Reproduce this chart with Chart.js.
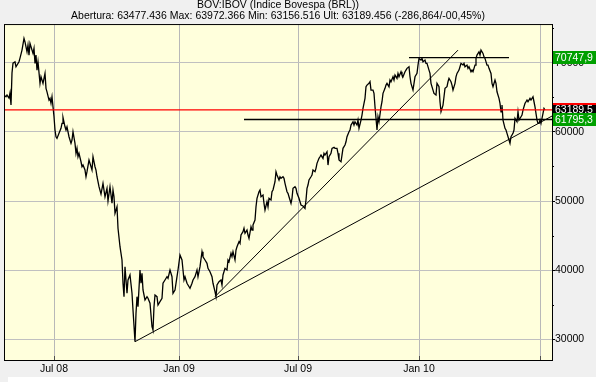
<!DOCTYPE html>
<html><head><meta charset="utf-8">
<script src="https://cdn.jsdelivr.net/npm/chart.js@4"></script>
<style>html,body{margin:0;padding:0;background:#f0f0f0;}canvas{display:block;}</style>
</head><body>
<canvas id="c" width="596" height="382"></canvas>
<script>
const titleText = 'BOV:IBOV (Indice Bovespa (BRL))';
const subtitleText = 'Abertura: 63477.436 Max: 63972.366 Min: 63156.516 Ult: 63189.456 (-286,864/-00,45%)';

// trading-day index (chart x) and closing values
const dayIndex = [4,6,7,9,10,11,12,13,15,16,19,20,22,24,25,27,28,29,30,31,33,34,35,36,37,38,40,41,43,45,46,47,49,50,51,52,53,54,55,56,57,59,61,62,63,65,66,67,69,71,72,73,75,76,77,78,79,81,82,83,85,86,87,89,90,92,93,95,96,97,99,101,103,105,107,108,110,112,113,114,115,117,118,120,122,123,124,125,127,128,130,132,133,135,136,137,138,140,141,142,143,145,147,148,150,152,153,154,155,157,158,160,162,163,165,167,168,170,172,173,175,177,178,180,182,183,184,185,187,188,190,192,193,195,197,198,200,202,203,205,207,208,210,212,213,215,216,217,219,221,222,223,225,227,228,229,231,232,233,235,236,237,239,240,241,243,244,245,247,248,249,251,252,253,255,256,257,259,260,261,263,264,265,267,268,269,271,272,273,275,276,277,279,280,281,283,284,285,287,288,289,291,292,293,295,296,297,299,300,301,303,305,306,307,308,309,311,312,313,315,316,317,319,320,321,323,324,325,327,328,329,331,332,334,335,337,338,339,341,342,343,345,346,347,349,350,351,353,354,355,357,358,359,361,362,363,365,366,367,369,370,371,373,374,375,377,378,379,381,382,383,385,386,387,389,390,391,393,394,395,397,398,399,401,402,403,405,406,407,409,410,411,413,414,415,417,418,419,421,422,423,425,426,427,429,430,431,433,434,436,437,439,440,441,443,444,445,447,448,449,451,452,453,455,456,457,459,460,461,463,464,465,467,468,469,471,472,473,475,476,477,479,480,481,483,484,485,487,488,489,491,492,493,495,496,497,499,500,501,502,503,505,506,507,509,510,511,513,514,515,517,518,519,521,522,523,525,526,527,528,530,531,533,534,535,537,538,539,540,541,543,544,545];
const closes = [65330,65080,65330,64890,65620,63880,68510,69950,70140,69420,70140,70680,71830,73520,73030,71590,72560,71110,72800,72310,71360,72080,69910,71110,68940,70140,67020,67970,67020,68460,66300,65800,64600,64850,64130,65080,63630,62190,60270,59300,59060,59790,60510,61230,62100,60740,60270,60740,59300,58340,58820,60020,58340,56900,57620,56400,56900,55680,54960,55200,54480,53510,54240,55930,55450,54480,56400,54960,54480,53510,52070,51010,52560,50620,51830,50000,52070,49670,51590,50620,48220,49170,46050,43390,41470,38100,36160,40500,36650,38570,39300,36650,34240,29650,33760,36160,34710,40020,38100,39540,37130,35680,36160,35930,35210,31820,31340,34710,36410,36160,34960,35440,35930,38100,38570,39050,38820,40020,39050,36650,37130,39050,40020,42190,41470,40020,38570,39050,38100,37850,37370,38100,38570,39050,40020,39050,40500,42670,41940,41470,40990,40270,39770,39050,38100,36880,36160,37850,38330,38570,37850,39300,40270,40030,41470,41220,42440,41950,42670,41470,42910,43390,44110,43880,45080,45560,46050,45330,45800,45080,44600,46280,45800,46530,47250,49170,50390,51340,51590,50620,50870,49670,48700,49900,49170,50390,50140,51340,51590,52790,54240,53760,53040,53510,53280,53510,53280,52560,51340,51110,50620,49670,50390,51830,52070,51830,51110,50390,49900,49420,49280,48940,50140,51830,52310,53040,53510,53760,54480,54240,54730,55450,56170,56400,56650,56170,56900,56650,57130,55200,56400,56900,57620,57760,57620,57620,56900,55930,55680,56650,57620,58100,58570,59300,60020,60270,60990,61470,60990,61470,60990,61710,60510,61710,62430,63400,64850,66530,66770,67020,67250,66050,66050,65570,63630,60270,62190,61470,63630,64360,65570,66300,66770,67020,66530,67500,67250,67970,67500,68220,67740,68460,67970,68700,68220,67970,68700,68940,69190,69420,67970,67020,66050,67020,67970,68460,69660,70630,70390,70630,70140,70390,69910,69910,68940,68460,67020,66050,65570,65330,67020,66530,64360,62910,63880,65080,66300,66530,67250,67740,67250,66770,66050,67020,67970,68460,68940,69420,69910,69660,69910,69420,69660,69190,69420,68700,68940,68700,69660,70630,71110,71590,71110,71830,71350,70860,70630,69660,69660,69190,68460,67020,66530,67500,67020,65800,64850,64130,62910,63880,61710,60510,60270,59790,58820,58340,59300,59790,60270,61960,61470,62910,61710,62190,62430,63160,64130,64360,64600,64360,64850,64600,65080,64360,63630,61710,61230,61230,61710,61230,62680,63400,63189.5];

const xTickPos = [54,179,298,419,540];
const xTickLabels = ['Jul 08','Jan 09','Jul 09','Jan 10',''];
const yTicks = [30000,40000,50000,60000,70000];
const yMinorTicks = [35000,45000,55000,65000,75000];

// drawn study lines (endpoints)
const trendLongX = [135,552];
const trendLongY = [29650,62290];
const trendShortX = [215,458];
const trendShortY = [36160,71830];
const resistX = [409,509];
const resistValue = 70747.9;
const supportX = [244,552];
const supportValue = 61795.3;
const lastValue = 63189.5;

const FONT = '"Liberation Sans", Arial, sans-serif';
const fmt = v => v.toFixed(1).replace('.', ',');
const pts = (xs, ys) => xs.map((x, i) => ({x, y: ys[i]}));

const decor = {
  id: 'decor',
  beforeDraw(chart) {
    const {ctx, chartArea: a} = chart;
    ctx.save();
    ctx.fillStyle = '#f0f0f0';
    ctx.fillRect(0, 0, chart.width, chart.height);
    ctx.fillStyle = '#ffffff';
    ctx.fillRect(8, 377, chart.width - 8, 5);
    ctx.fillStyle = '#ffffdc';
    ctx.fillRect(a.left, a.top, a.right - a.left, a.bottom - a.top);
    ctx.restore();
  },
  afterDraw(chart) {
    const {ctx, chartArea: a, scales} = chart;
    const ys = scales.y, xs = scales.x;
    ctx.save();
    ctx.strokeStyle = '#000';
    ctx.lineWidth = 1;
    ctx.strokeRect(a.left + 0.5, a.top + 0.5, a.right - a.left, a.bottom - a.top);
    ctx.strokeStyle = '#505050';
    xTickPos.forEach(v => {
      const px = Math.round(xs.getPixelForValue(v)) + 0.5;
      ctx.beginPath(); ctx.moveTo(px, a.bottom - 4); ctx.lineTo(px, a.bottom); ctx.stroke();
    });
    ctx.strokeStyle = '#000';
    yMinorTicks.forEach(v => {
      const py = Math.round(ys.getPixelForValue(v)) + 0.5;
      if (py < a.top || py > a.bottom) return;
      ctx.beginPath(); ctx.moveTo(a.right, py); ctx.lineTo(a.right + 2, py); ctx.stroke();
    });
    const box = (v, bg, top) => {
      const py = ys.getPixelForValue(v);
      const y0 = Math.round(py - 6.5);
      ctx.fillStyle = bg;
      ctx.fillRect(a.right + 1, y0, chart.width - a.right - 1, 13);
      if (top) { ctx.fillStyle = top; ctx.fillRect(a.right + 1, y0, chart.width - a.right - 1, 2); }
      ctx.fillStyle = '#fff';
      ctx.font = '10.5px ' + FONT;
      ctx.textBaseline = 'middle';
      ctx.textAlign = 'left';
      ctx.fillText(fmt(v), a.right + 3, y0 + 7.5);
    };
    box(lastValue, '#000000', '#ff0000');
    box(supportValue, '#00a000');
    box(resistValue, '#00a000');
    ctx.restore();
  }
};

new Chart(document.getElementById('c'), {
  type: 'line',
  data: {
    datasets: [
      {data: pts(dayIndex, closes), borderColor: '#000', borderWidth: 1.3, pointRadius: 0, order: 3},
      {data: pts(trendLongX, trendLongY), borderColor: '#000', borderWidth: 1, pointRadius: 0, order: 2},
      {data: pts(trendShortX, trendShortY), borderColor: '#000', borderWidth: 1, pointRadius: 0, order: 2},
      {data: pts(resistX, [resistValue, resistValue]), borderColor: '#000', borderWidth: 1.3, pointRadius: 0, order: 1},
      {data: pts(supportX, [supportValue, supportValue]), borderColor: '#000', borderWidth: 1.3, pointRadius: 0, order: 1},
      {data: pts([4, 552], [lastValue, lastValue]), borderColor: '#ff0000', borderWidth: 1.3, pointRadius: 0, order: 0}
    ]
  },
  options: {
    responsive: false,
    animation: false,
    devicePixelRatio: 1,
    layout: {padding: {left: 4, right: 0, top: 0, bottom: 0}},
    plugins: {
      legend: {display: false},
      tooltip: {enabled: false},
      title: {display: true, fullSize: false, text: titleText, color: '#000', padding: {top: 0, bottom: 0},
        font: {family: FONT, size: 10.5, weight: 'normal', lineHeight: 1.05}},
      subtitle: {display: true, fullSize: false, text: subtitleText, color: '#000', padding: {top: 0, bottom: 2},
        font: {family: FONT, size: 10.5, weight: 'normal', lineHeight: 1.05}}
    },
    scales: {
      x: {
        type: 'linear', min: 4, max: 552,
        afterBuildTicks: s => { s.ticks = xTickPos.map(v => ({value: v})); },
        afterFit: s => { s.height = 22; },
        grid: {color: '#b8b8b8', lineWidth: 1, drawTicks: false},
        border: {display: true, color: '#000', width: 1},
        ticks: {color: '#000', padding: 3, maxRotation: 0, autoSkip: false,
          font: {family: FONT, size: 10.5}, callback: (v, i) => xTickLabels[i]}
      },
      y: {
        position: 'right', min: 27000, max: 75600,
        afterBuildTicks: s => { s.ticks = yTicks.map(v => ({value: v})); },
        afterFit: s => { s.width = 44; },
        grid: {color: '#c0c0c0', lineWidth: 1, drawTicks: true, tickLength: 3, tickColor: '#000', tickWidth: 1},
        border: {display: true, color: '#000', width: 1},
        ticks: {color: '#000', padding: 0, font: {family: FONT, size: 10.5}, callback: v => String(v)}
      }
    }
  },
  plugins: [decor]
});
</script>
</body></html>
